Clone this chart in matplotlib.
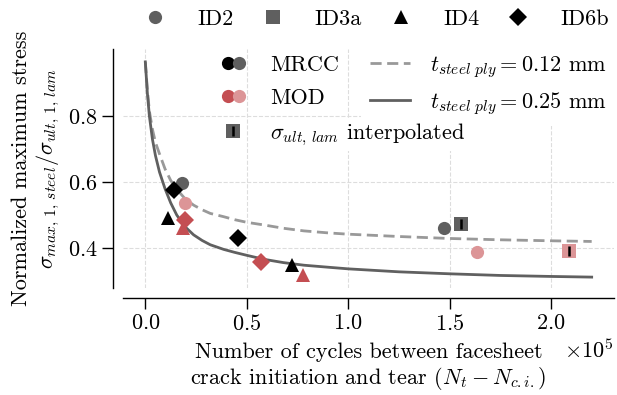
import numpy as np
import matplotlib
matplotlib.use("Agg")
import matplotlib.pyplot as plt
from matplotlib.lines import Line2D
from matplotlib.legend_handler import HandlerTuple

plt.rcParams.update({
    "font.family": "serif",
    "font.serif": ["cmr10"],
    "mathtext.fontset": "cm",
    "axes.formatter.use_mathtext": True,
    "axes.unicode_minus": False,
    "font.size": 16,
})

# fitted curves, x in 1e5 cycles
curve_x = [0.00, 0.01, 0.02, 0.035, 0.05, 0.07, 0.097, 0.125, 0.155, 0.195,
           0.238, 0.28, 0.32, 0.386, 0.44, 0.50, 0.584, 0.68, 0.782, 0.90,
           1.00, 1.25, 1.50, 1.75, 2.00, 2.20]
curve_thick = [0.964, 0.870, 0.800, 0.730, 0.680, 0.630, 0.580, 0.537, 0.500, 0.465,
               0.440, 0.423, 0.410, 0.396, 0.387, 0.378, 0.366, 0.356, 0.348, 0.342,
               0.337, 0.328, 0.322, 0.317, 0.314, 0.312]
curve_thin = [0.964, 0.880, 0.815, 0.760, 0.720, 0.685, 0.640, 0.605, 0.578, 0.550,
              0.530, 0.516, 0.505, 0.495, 0.486, 0.478, 0.470, 0.460, 0.452, 0.446,
              0.442, 0.435, 0.429, 0.425, 0.422, 0.420]

# test results, x in 1e5 cycles
mrcc_id = ["ID2", "ID2", "ID3a", "ID4", "ID4", "ID6b", "ID6b"]
mrcc_x = [0.180, 1.470, 1.555, 0.114, 0.724, 0.142, 0.455]
mrcc_y = [0.596, 0.460, 0.473, 0.491, 0.348, 0.576, 0.429]

mod_id = ["ID2", "ID2", "ID3a", "ID4", "ID4", "ID6b", "ID6b"]
mod_x = [0.196, 1.634, 2.090, 0.188, 0.777, 0.196, 0.571]
mod_y = [0.535, 0.388, 0.390, 0.462, 0.318, 0.485, 0.359]

specimens = ["ID2", "ID3a", "ID4", "ID6b"]
interpolated = ["ID3a"]

markers = {"ID2": "o", "ID3a": "s", "ID4": "^", "ID6b": "D"}
msizes = {"ID2": 9.5, "ID3a": 9.5, "ID4": 10, "ID6b": 9}
gray = "#5f5f5f"
pink = "#dc9597"
red = "#c44e52"
mrcc_col = {"ID2": gray, "ID3a": gray, "ID4": "black", "ID6b": "black"}
mod_col = {"ID2": pink, "ID3a": pink, "ID4": red, "ID6b": red}

fig = plt.figure(figsize=(6.17, 3.95), dpi=100)
ax = fig.add_axes([123 / 617, 1 - 288 / 395, 491 / 617, 239 / 395])

x = np.array(curve_x) * 1e5
ax.plot(x, curve_thin, color="#999999", lw=2.0, ls=(0, (4, 2)), zorder=2)
ax.plot(x, curve_thick, color="#606060", lw=2.0, zorder=2)


def plot_points(ids, xs, ys, cols):
    for spec in specimens:
        px = [xi * 1e5 for xi, s in zip(xs, ids) if s == spec]
        py = [yi for yi, s in zip(ys, ids) if s == spec]
        ax.plot(px, py, ls="", marker=markers[spec], ms=msizes[spec],
                color=cols[spec], mew=0, zorder=3)
        if spec in interpolated:
            ax.plot(px, py, ls="", marker="|", ms=7, mew=1.8,
                    color="black", zorder=4)


plot_points(mrcc_id, mrcc_x, mrcc_y, mrcc_col)
plot_points(mod_id, mod_x, mod_y, mod_col)

ax.set_xlim(-0.11e5, 2.31e5)
ax.set_ylim(0.279, 1.003)
ax.set_yticks([0.4, 0.6, 0.8])
ax.ticklabel_format(axis="x", style="sci", scilimits=(0, 0))
ax.grid(True, color="#dddddd", ls="--", lw=0.8)
ax.set_axisbelow(True)

for side in ["top", "right"]:
    ax.spines[side].set_visible(False)
for side in ["left", "bottom"]:
    ax.spines[side].set_position(("outward", 7))
    ax.spines[side].set_linewidth(1.0)
ax.tick_params(direction="out", length=8, width=1.0)

ax.set_xlabel("Number of cycles between facesheet\n"
              r"crack initiation and tear $(N_t - N_{c.i.})$", labelpad=6)
ax.set_ylabel("Normalized maximum stress\n"
              r"$\sigma_{max,\,1,\,steel}/\sigma_{ult,\,1,\,lam}$")

# specimen legend above the axes
spec_handles = [Line2D([], [], ls="", marker=markers[s], ms=msizes[s],
                       color=mrcc_col[s], mew=0) for s in specimens]
fig.legend(spec_handles, specimens, loc="center left", ncol=4,
           bbox_to_anchor=(133 / 617, 1 - 19 / 395), frameon=False,
           handlelength=2, handletextpad=0.89, columnspacing=0.76,
           borderpad=0, borderaxespad=0)


# method legend
def dot(c, m="o"):
    return Line2D([], [], ls="", marker=m, ms=9.5, color=c, mew=0)


mrcc_h = (dot("black"), dot(gray))
mod_h = (dot(red), dot(pink))
interp_h = (dot(gray, "s"),
            Line2D([], [], ls="", marker="|", ms=7, mew=1.8, color="black"))
pair = HandlerTuple(ndivide=None, pad=-0.36)

line_handles = [Line2D([], [], color="#999999", lw=2.0, ls=(0, (4, 2))),
                Line2D([], [], color="#606060", lw=2.0)]
line_labels = [r"$t_{steel\ ply} = 0.12$ mm", r"$t_{steel\ ply} = 0.25$ mm"]
leg_b = fig.legend(line_handles, line_labels, loc="upper left",
                   bbox_to_anchor=(361 / 617, 1 - 45 / 395), frameon=True,
                   facecolor="white", edgecolor="none", framealpha=1,
                   fancybox=False, handlelength=1.8, handletextpad=0.9,
                   labelspacing=0.45, borderpad=0.4, borderaxespad=0)

leg_a = fig.legend([mrcc_h, mod_h, interp_h],
                   ["MRCC", "MOD", r"$\sigma_{ult,\,lam}$ interpolated"],
                   loc="upper left", bbox_to_anchor=(218 / 617, 1 - 55 / 395),
                   frameon=False, handlelength=1.35, handletextpad=1.0,
                   labelspacing=0.62, borderpad=0, borderaxespad=0,
                   handler_map={mrcc_h: pair, mod_h: pair})
leg_a.set_zorder(leg_b.get_zorder() + 1)
for t in leg_a.get_texts():
    t.set_bbox(dict(facecolor="white", edgecolor="none", pad=2))

fig.savefig("out.png", dpi=100)
